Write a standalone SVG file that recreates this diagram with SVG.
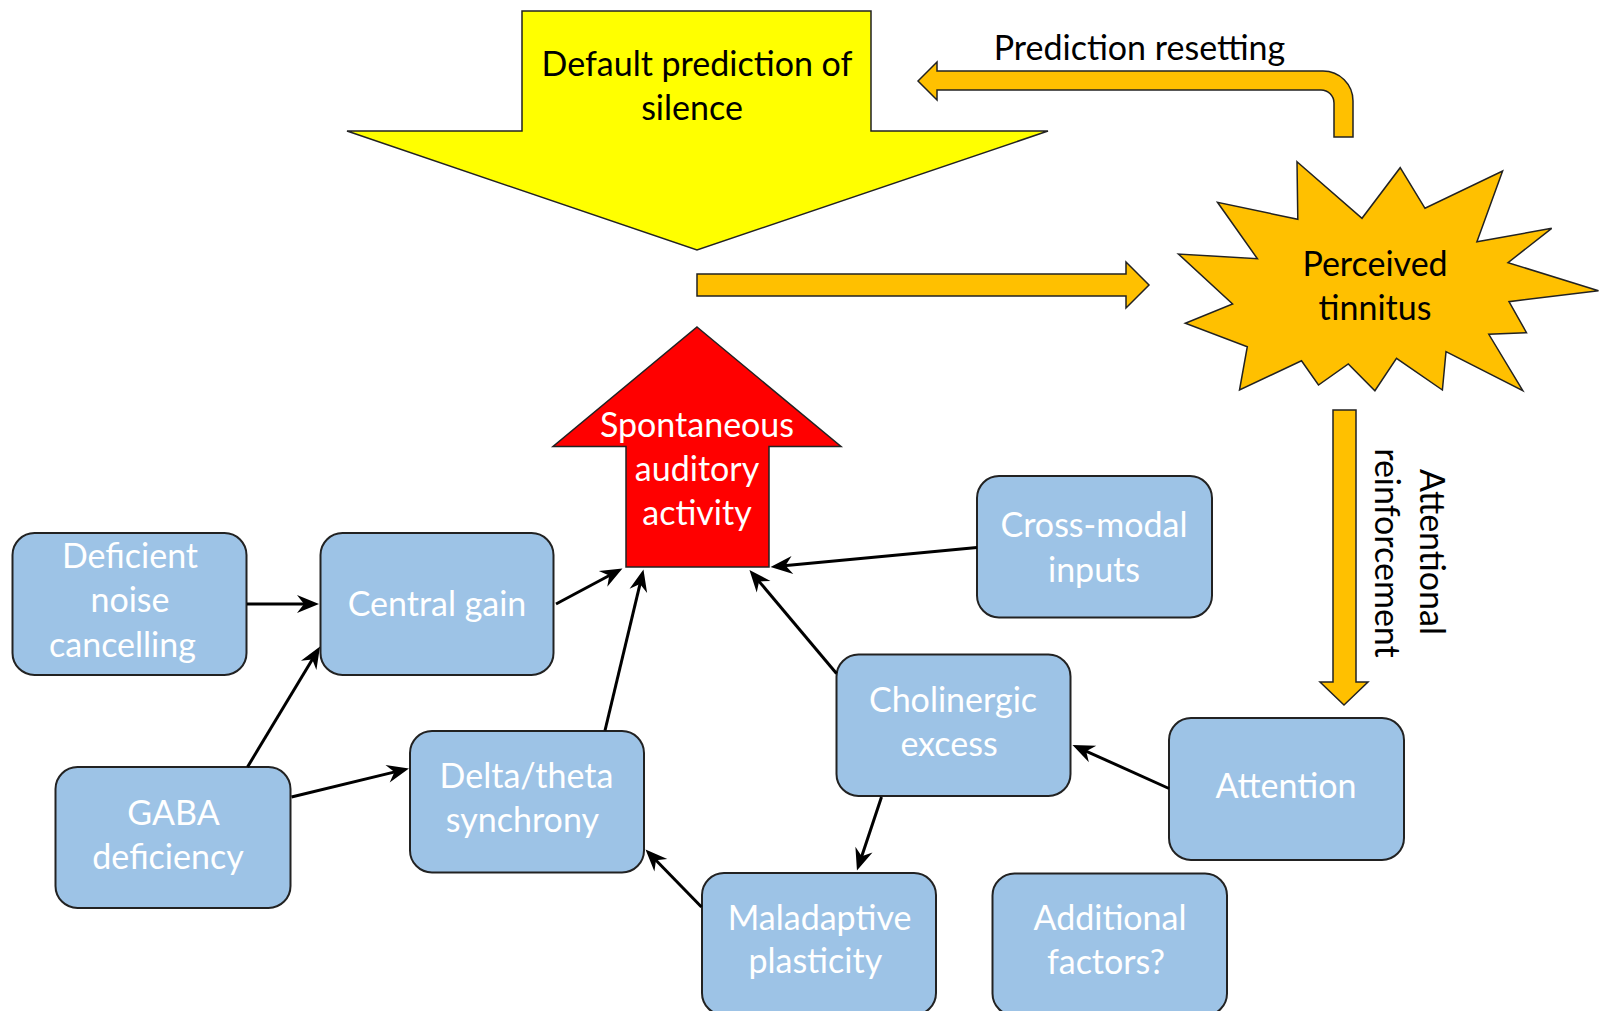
<svg xmlns="http://www.w3.org/2000/svg" width="1600" height="1011" viewBox="0 0 1600 1011">
<defs>
<marker id="ah" markerUnits="userSpaceOnUse" viewBox="-24 -11 26 22" refX="-8" refY="0" markerWidth="26" markerHeight="22" orient="auto">
<path d="M0,0 L-22,-9 L-15,0 L-22,9 Z" fill="#000"/>
</marker>
</defs>
<style>
text{font-family:Lato,"Open Sans",sans-serif;font-size:34px;text-anchor:middle}
.dark{fill:#000}
.light{fill:#fff}
.box{fill:#9DC3E6;stroke:#222;stroke-width:2}
.conn{stroke:#000;stroke-width:3;fill:none;marker-end:url(#ah)}
.block{stroke:#222;stroke-width:1.5}
</style>
<rect width="1600" height="1011" fill="#fff"/>

<g id="default-prediction">
<path class="block" fill="#FFFF00" d="M522,11 L871,11 L871,131 L1048,131 L697,250 L347,131 L522,131 Z"/>
<text class="dark" x="697" y="76">Default prediction of</text>
<text class="dark" x="692" y="119.5">silence</text>
</g>

<g id="prediction-resetting">
<path class="block" fill="#FFC000" d="M918,81 L937,62 L937,71 L1323,71 A30,30 0 0 1 1353,101 L1353,137 L1334,137 L1334,103 A13,13 0 0 0 1321,90 L937,90 L937,100 Z"/>
<text class="dark" x="1139.5" y="60">Prediction resetting</text>
</g>

<g id="to-tinnitus">
<path class="block" fill="#FFC000" d="M697,274 L1126,274 L1126,262 L1149,285 L1126,308 L1126,296 L697,296 Z"/>
</g>

<g id="perceived-tinnitus">
<path class="block" fill="#FFC000" d="M1297,161.7 L1362,218.3 L1400.2,167.7 L1425,208.3 L1502.6,171 L1476.9,241.7 L1551.7,228.3 L1508,262.7 L1598.5,290.7 L1509,301.7 L1526.5,332.7 L1488.8,334.3 L1522.8,390.7 L1446,351.7 L1442.4,390 L1396.5,358.3 L1374.9,390.7 L1348.3,364 L1318.5,385 L1301.5,360.7 L1239.5,390 L1247.3,346.7 L1185.3,323.3 L1232.6,304 L1178.4,254 L1257.4,258.7 L1217.5,202.3 L1297.8,219.3 Z"/>
<text class="dark" x="1375" y="276">Perceived</text>
<text class="dark" x="1375" y="320">tinnitus</text>
</g>

<g id="attentional-reinforcement">
<path class="block" fill="#FFC000" d="M1333,410 L1356,410 L1356,682 L1368,682 L1344,705 L1320,682 L1333,682 Z"/>
<text class="dark" transform="translate(1420,552) rotate(90)">Attentional</text>
<text class="dark" transform="translate(1375,553) rotate(90)">reinforcement</text>
</g>

<g id="spontaneous-activity">
<path class="block" fill="#FF0000" d="M697,327 L841,446.5 L769,446.5 L769,567 L626,567 L626,446.5 L553,446.5 Z"/>
<text class="light" x="697" y="436.7">Spontaneous</text>
<text class="light" x="697" y="481">auditory</text>
<text class="light" x="697" y="525">activity</text>
</g>

<g id="deficient-noise-cancelling">
<rect class="box" x="12.5" y="533" width="234" height="142" rx="22"/>
<text class="light" x="130" y="568.3">Deficient</text>
<text class="light" x="130" y="612">noise</text>
<text class="light" x="122.5" y="656.5">cancelling</text>
</g>

<g id="central-gain">
<rect class="box" x="320.5" y="533" width="233" height="142" rx="22"/>
<text class="light" x="437" y="616">Central gain</text>
</g>

<g id="gaba-deficiency">
<rect class="box" x="55.5" y="767" width="235" height="141" rx="22"/>
<text class="light" x="173.5" y="825">GABA</text>
<text class="light" x="168" y="868.5">deficiency</text>
</g>

<g id="delta-theta-synchrony">
<rect class="box" x="410" y="731" width="234" height="141.5" rx="22"/>
<text class="light" x="526.5" y="788.3">Delta/theta</text>
<text class="light" x="522.4" y="831.7">synchrony</text>
</g>

<g id="cross-modal-inputs">
<rect class="box" x="977" y="476" width="235" height="141.5" rx="22"/>
<text class="light" x="1094" y="537.3">Cross-modal</text>
<text class="light" x="1094" y="581.7">inputs</text>
</g>

<g id="cholinergic-excess">
<rect class="box" x="836.5" y="654.5" width="234" height="141.5" rx="22"/>
<text class="light" x="953" y="711.7">Cholinergic</text>
<text class="light" x="949" y="756">excess</text>
</g>

<g id="attention">
<rect class="box" x="1169" y="718" width="235" height="142" rx="22"/>
<text class="light" x="1286" y="798">Attention</text>
</g>

<g id="maladaptive-plasticity">
<rect class="box" x="702" y="873" width="234" height="142" rx="22"/>
<text class="light" x="819.6" y="930">Maladaptive</text>
<text class="light" x="815.3" y="973">plasticity</text>
</g>

<g id="additional-factors">
<rect class="box" x="992.5" y="873.5" width="234.5" height="142" rx="22"/>
<text class="light" x="1110" y="930">Additional</text>
<text class="light" x="1106" y="974">factors?</text>
</g>

<g id="connectors">
<line class="conn" x1="247" y1="604" x2="311" y2="604"/>
<line class="conn" x1="247.5" y1="767" x2="315.9" y2="653.4"/>
<line class="conn" x1="291.5" y1="797" x2="401.2" y2="770.4"/>
<line class="conn" x1="556" y1="604" x2="615.4" y2="572.3"/>
<line class="conn" x1="605" y1="730.5" x2="641.6" y2="577.3"/>
<line class="conn" x1="977" y1="547.5" x2="778.5" y2="566.25"/>
<line class="conn" x1="836.5" y1="673.5" x2="754.6" y2="576.1"/>
<line class="conn" x1="1169" y1="788.5" x2="1079.8" y2="748.3"/>
<line class="conn" x1="881.5" y1="797" x2="859.5" y2="862.9"/>
<line class="conn" x1="701.5" y1="907" x2="651.1" y2="855.2"/>
</g>
</svg>
